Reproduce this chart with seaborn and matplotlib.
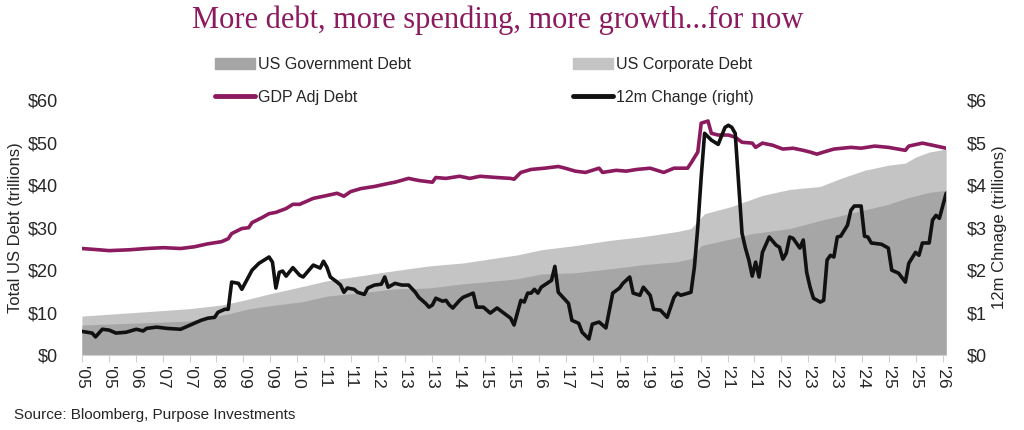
import numpy as np
import pandas as pd
import matplotlib
matplotlib.use('Agg')
import matplotlib.pyplot as plt
from matplotlib.patches import Patch
from matplotlib.lines import Line2D
import seaborn as sns

# x values are months since Jan 2005
gov_months = [0, 31, 43, 49, 55, 65, 72, 82, 92, 102, 112, 122, 128, 135, 145, 155, 165,
              175, 179, 182, 191, 197, 208, 217, 227, 237, 243, 249, 254]
gov_debt = [7.1, 8.0, 9.7, 10.9, 11.6, 12.6, 13.9, 14.7, 15.6, 15.8, 16.8, 17.5, 18.0, 19.1,
            19.4, 20.3, 21.3, 22.0, 22.7, 25.8, 27.4, 28.6, 29.8, 31.7, 33.6, 35.5, 37.1,
            38.3, 38.8]

# top of the stacked corporate band (government + corporate)
corp_months = [0, 31, 41, 48, 55, 65, 72, 82, 92, 102, 112, 122, 128, 135, 145, 155, 165,
               175, 179, 183, 191, 200, 208, 217, 223, 230, 237, 242, 245, 249, 254]
corp_top = [9.2, 10.9, 11.8, 13.0, 14.4, 16.2, 17.5, 18.7, 19.9, 21.0, 21.7, 22.9, 23.6,
            24.8, 25.8, 27.0, 27.9, 29.1, 29.8, 33.3, 35.0, 37.6, 39.0, 39.7, 41.6, 43.5,
            44.7, 45.2, 46.6, 47.8, 48.5]

gdp_months = [0, 5, 8, 14, 19, 24, 29, 33, 37, 41, 43, 44, 47, 49, 50, 53, 55, 57, 60, 62,
              64, 68, 71, 75, 77, 79, 82, 86, 90, 92, 96, 99, 103, 104, 107, 111, 114, 117,
              122, 126, 127, 129, 132, 136, 140, 142, 145, 148, 152, 153, 157, 160, 163,
              167, 171, 174, 178, 179, 181, 182, 184, 185, 187, 190, 192, 194, 197, 198,
              200, 203, 206, 209, 212, 214, 216, 218, 221, 226, 229, 233, 237, 242, 243,
              247, 250, 254]
gdp_adj_debt = [25.1, 24.8, 24.6, 24.8, 25.1, 25.3, 25.1, 25.5, 26.2, 26.7, 27.4, 28.6, 29.8,
                30.0, 31.2, 32.4, 33.3, 33.6, 34.5, 35.5, 35.5, 36.9, 37.4, 38.1, 37.4, 38.5,
                39.2, 39.7, 40.4, 40.7, 41.6, 41.1, 40.7, 41.8, 41.6, 42.1, 41.6, 42.1, 41.8,
                41.6, 41.4, 43.0, 43.7, 44.0, 44.4, 44.0, 43.3, 43.0, 44.0, 43.0, 43.5, 43.3,
                43.7, 44.0, 43.0, 44.0, 44.0, 45.2, 47.8, 54.6, 55.1, 52.2, 51.8, 51.8, 51.3,
                50.1, 49.9, 48.9, 49.9, 49.4, 48.5, 48.7, 48.2, 47.8, 47.3, 47.8, 48.5, 48.9,
                48.7, 49.2, 48.9, 48.2, 49.2, 49.9, 49.4, 48.7]

chg_months = [0, 3, 4, 6, 8, 10, 13, 16, 18, 19, 22, 25, 29, 31, 33, 35, 37, 39, 40, 42, 43,
              44, 46, 47, 50, 52, 55, 56, 57, 58, 59, 60, 62, 64, 65, 68, 70, 71, 72, 73, 75,
              76, 77, 78, 80, 81, 83, 84, 86, 88, 89, 90, 92, 94, 96, 98, 99, 101, 102, 103,
              104, 106, 107, 108, 109, 111, 112, 115, 116, 118, 120, 122, 124, 126, 127, 129,
              130, 131, 132, 133, 134, 135, 138, 139, 140, 143, 144, 146, 147, 149, 150, 152,
              154, 156, 158, 159, 161, 162, 164, 165, 167, 168, 170, 172, 174, 175, 176, 179,
              180, 181, 182, 183, 185, 187, 189, 190, 191, 192, 193, 194, 195, 196, 197, 198,
              199, 200, 202, 204, 205, 206, 207, 208, 209, 211, 212, 213, 214, 215, 217, 218,
              219, 220, 221, 222, 223, 225, 226, 227, 229, 230, 231, 232, 235, 237, 238, 240,
              242, 243, 245, 246, 247, 249, 250, 251, 252, 254]
chg_12m = [0.56, 0.52, 0.43, 0.61, 0.59, 0.52, 0.54, 0.61, 0.57, 0.63, 0.66, 0.63, 0.61, 0.68,
           0.75, 0.82, 0.87, 0.89, 1.01, 1.08, 1.08, 1.72, 1.69, 1.55, 2.00, 2.16, 2.31, 2.19,
           1.58, 1.95, 1.98, 1.86, 2.06, 1.88, 1.84, 2.12, 2.05, 2.21, 2.07, 1.84, 1.72, 1.65,
           1.48, 1.58, 1.55, 1.48, 1.43, 1.58, 1.65, 1.67, 1.84, 1.60, 1.69, 1.65, 1.65, 1.48,
           1.36, 1.22, 1.13, 1.18, 1.34, 1.27, 1.29, 1.18, 1.11, 1.29, 1.36, 1.46, 1.13, 1.13,
           0.99, 1.11, 0.99, 0.87, 0.71, 1.29, 1.25, 1.46, 1.46, 1.55, 1.46, 1.60, 1.76, 2.09,
           1.48, 1.22, 0.82, 0.75, 0.54, 0.38, 0.73, 0.78, 0.64, 1.46, 1.58, 1.69, 1.84, 1.46,
           1.41, 1.60, 1.41, 1.08, 1.06, 0.89, 1.36, 1.46, 1.41, 1.48, 2.07, 3.01, 4.19, 5.22,
           5.06, 4.96, 5.36, 5.41, 5.36, 5.22, 4.05, 2.87, 2.52, 2.24, 1.86, 2.19, 1.84, 2.42,
           2.78, 2.59, 2.54, 2.26, 2.40, 2.78, 2.75, 2.52, 2.71, 1.95, 1.60, 1.34, 1.25, 1.29,
           2.24, 2.35, 2.31, 2.78, 2.80, 3.06, 3.41, 3.51, 3.51, 2.80, 2.78, 2.64, 2.61, 2.52,
           2.00, 1.93, 1.72, 2.16, 2.42, 2.35, 2.64, 2.64, 3.18, 3.29, 3.22, 3.81]

tick_labels = ["'05", "'05", "'06", "'07", "'07", "'08", "'09", "'09", "'10", "'11", "'11",
               "'12", "'13", "'13", "'14", "'15", "'15", "'16", "'17", "'17", "'18", "'19",
               "'19", "'20", "'21", "'21", "'22", "'23", "'23", "'24", "'25", "'25", "'26"]
left_ticks = [0, 10, 20, 30, 40, 50, 60]
right_ticks = [0, 1, 2, 3, 4, 5, 6]

gov_col = '#a6a6a6'
corp_col = '#c4c4c4'
gdp_col = '#8c1a5e'
chg_col = '#111111'

sns.set_style('white')
plt.rcParams['font.family'] = ['Liberation Sans', 'DejaVu Sans']

fig = plt.figure(figsize=(10.24, 4.3), dpi=100)
ax = fig.add_axes([0.080, 0.174, 0.844, 0.593])

ax.fill_between(corp_months, 0, corp_top, color=corp_col, lw=0, zorder=1)
ax.fill_between(gov_months, 0, gov_debt, color=gov_col, lw=0, zorder=2)

gdp_df = pd.DataFrame({'month': gdp_months, 'value': gdp_adj_debt})
sns.lineplot(data=gdp_df, x='month', y='value', ax=ax, color=gdp_col, lw=2.6, zorder=3)

ax2 = ax.twinx()
chg_df = pd.DataFrame({'month': chg_months, 'value': chg_12m})
sns.lineplot(data=chg_df, x='month', y='value', ax=ax2, color=chg_col, lw=2.6, zorder=4)

ax.set_xlim(0, 254)
ax.set_ylim(0, 60)
ax2.set_ylim(0, 6)
ax.set_xticks(np.linspace(0, 253, len(tick_labels)))
ax.set_xticklabels(tick_labels, rotation=270, fontsize=12.5)
ax.set_yticks(left_ticks)
ax.set_yticklabels(['$%d' % v for v in left_ticks], fontsize=13)
ax2.set_yticks(right_ticks)
ax2.set_yticklabels(['$%d' % v for v in right_ticks], fontsize=13)

for a in (ax, ax2):
    for s in a.spines.values():
        s.set_visible(False)
    a.set_xlabel('')
ax.spines['bottom'].set_visible(True)
ax.spines['bottom'].set_color('#d0d0d0')
ax.tick_params(axis='x', bottom=True, length=5, color='#d0d0d0', pad=3)
ax.tick_params(axis='y', left=False, pad=14)
ax2.tick_params(axis='y', right=False, pad=11)

ax.set_ylabel('Total US Debt (trillions)', fontsize=12)
ax.yaxis.set_label_coords(-0.068, 0.5)
ax2.set_ylabel('12m Chnage (trillions)', fontsize=12, rotation=90)
ax2.yaxis.set_label_coords(1.053, 0.5)

handles = [Patch(color=gov_col), Line2D([], [], color=gdp_col, lw=3.5),
           Patch(color=corp_col), Line2D([], [], color=chg_col, lw=3.5)]
labels = ['US Government Debt', 'GDP Adj Debt', 'US Corporate Debt', '12m Change (right)']
fig.legend(handles, labels, ncol=2, loc='center', bbox_to_anchor=(0.473, 0.812),
           frameon=False, fontsize=11.5, columnspacing=10.1, handlelength=2.5,
           handletextpad=0.2, labelspacing=1.1)

fig.text(0.486, 0.953, 'More debt, more spending, more growth...for now',
         family=['Liberation Serif', 'DejaVu Serif'], color=gdp_col, fontsize=22,
         ha='center', va='center')
fig.text(0.014, 0.035, 'Source: Bloomberg, Purpose Investments', fontsize=11,
         ha='left', va='center')

fig.savefig('out.png', dpi=100)
